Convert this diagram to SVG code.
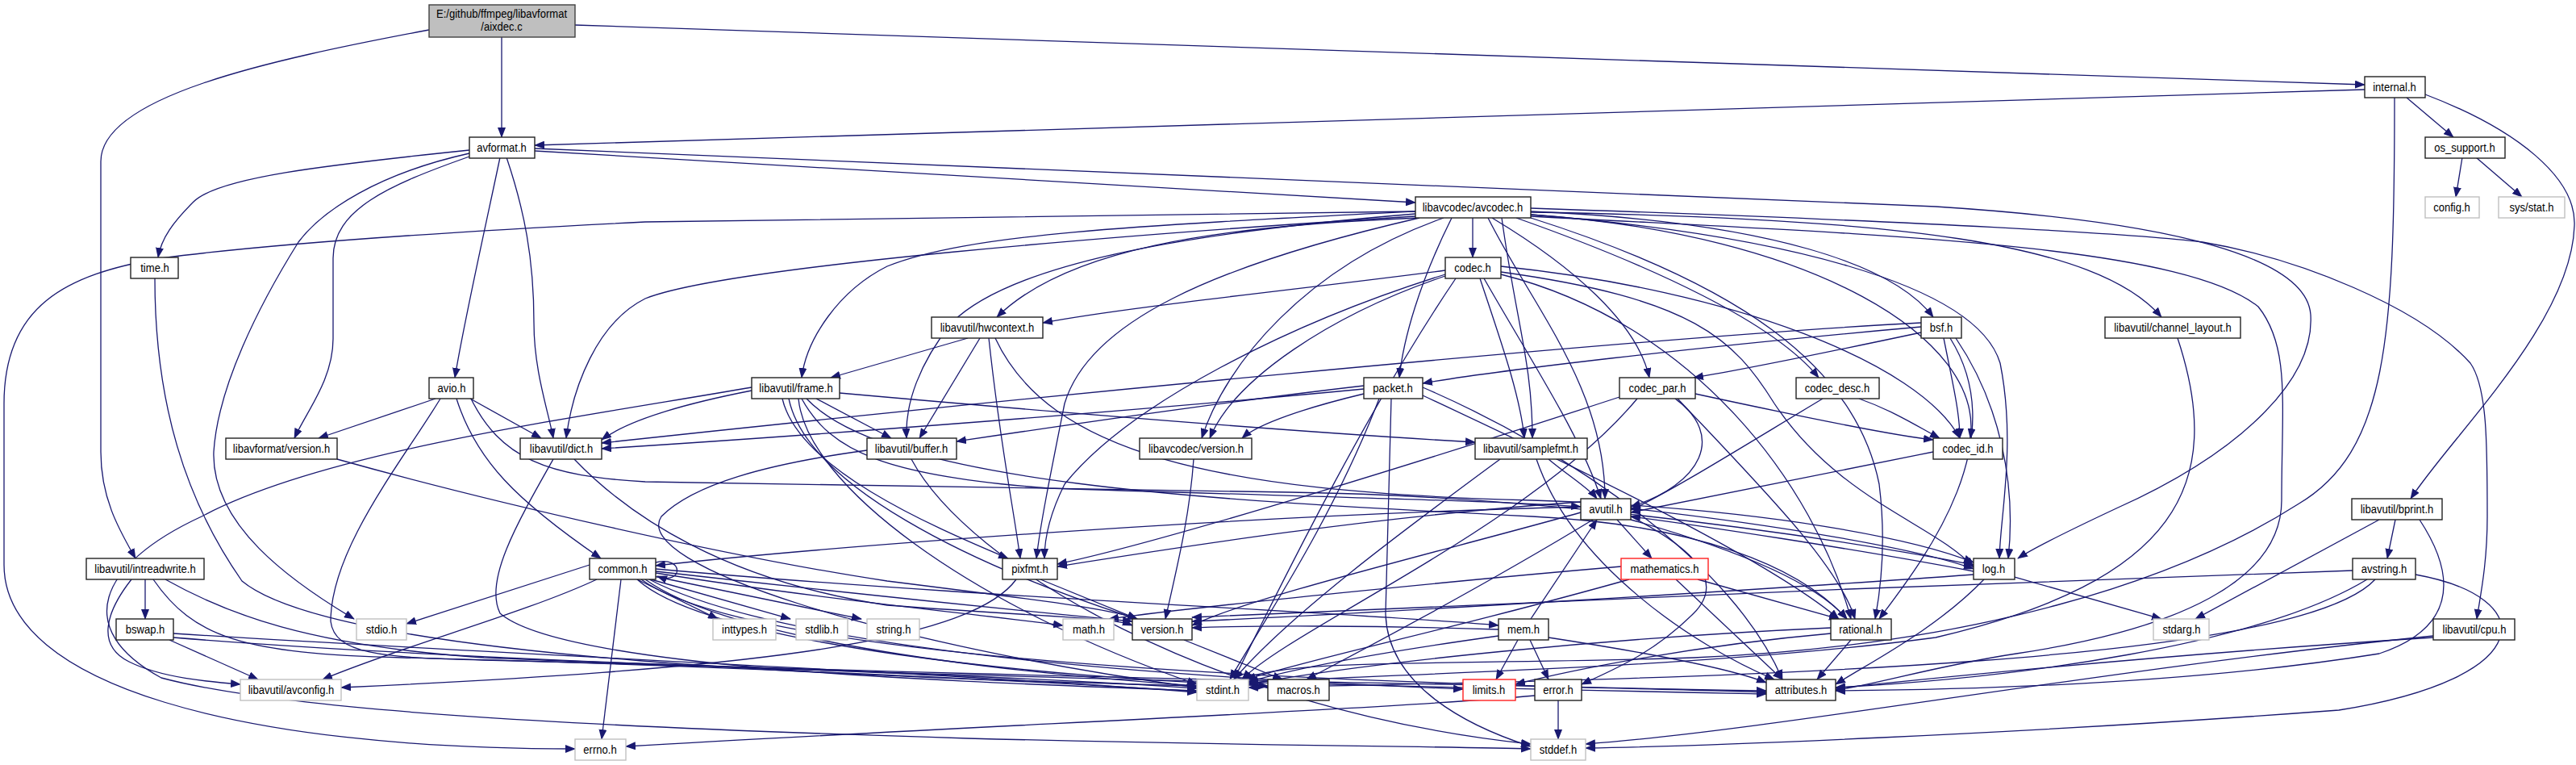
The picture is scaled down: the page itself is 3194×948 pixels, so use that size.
<svg xmlns="http://www.w3.org/2000/svg" width="3194" height="948" viewBox="0 0 3194 948">
<style>
.n rect{fill:#fff;stroke:#222;stroke-width:1.4}
.n.g rect{stroke:#c0c0c0}
.n.r rect{stroke:#ff2020}
.n.root rect{fill:#bfbfbf;stroke:#404040}
.n text{font-family:"Liberation Sans",Arial,sans-serif;font-size:15px;fill:#000;text-anchor:middle}
#edges path{fill:none;stroke:#191970;stroke-width:1.3;marker-end:url(#ah)}
</style>
<defs>
<marker id="ah" viewBox="0 0 13 10" refX="12" refY="5" markerWidth="13" markerHeight="10" markerUnits="userSpaceOnUse" orient="auto"><path d="M0,0 L13,5 L0,10 z" fill="#191970"/></marker>
</defs>
<rect width="3194" height="948" fill="#fff"/>
<g id="edges">
<path d="M622,46 L622,170"/>
<path d="M713,31 L2932,105"/>
<path d="M532,37 C330,75 125,120 125,200 L125,560 C125,620 150,660 168,692"/>
<path d="M2932,111 L663,180"/>
<path d="M2984,121 L3042,170"/>
<path d="M3007,117 C3120,160 3195,220 3192,280 C3188,400 3040,540 2989,618"/>
<path d="M2969,121 C2969,420 2960,560 2849,625 C2700,720 2450,800 2100,815 C1800,825 1600,815 1540,842"/>
<path d="M3053,195 L3045,244"/>
<path d="M3070,195 L3127,244"/>
<path d="M582,186 C400,205 270,220 240,250 C215,275 200,295 196,319"/>
<path d="M582,190 C470,215 400,260 370,300 C320,380 270,480 265,560 C262,650 360,720 439,767"/>
<path d="M582,194 C480,230 413,260 413,320 L413,420 C413,470 380,510 365,543"/>
<path d="M620,195 C600,290 575,400 564,468"/>
<path d="M628,195 C650,260 662,320 662,400 C662,460 680,510 686,543"/>
<path d="M663,187 L1755,251"/>
<path d="M663,184 L2400,256 C2700,275 2860,320 2865,390 C2870,470 2780,560 2624,630 C2560,660 2520,680 2502,692"/>
<path d="M540,494 L395,543"/>
<path d="M583,494 L671,543"/>
<path d="M566,494 C590,570 640,620 745,692"/>
<path d="M546,494 C500,570 410,680 410,770 C415,810 470,815 600,818 C900,825 1300,840 1484,853"/>
<path d="M582,490 C620,570 680,590 800,597 L1600,610 C2000,616 2400,690 2447,700"/>
<path d="M418,569 C600,620 900,690 1100,720 C1300,745 1380,755 1410,767"/>
<path d="M686,569 C640,650 600,720 620,760 C700,830 1200,845 1484,856"/>
<path d="M712,569 C780,640 900,720 1100,750 C1300,765 1380,765 1404,775"/>
<path d="M192,345 C192,500 230,620 300,720 C420,820 1100,840 1484,850"/>
<path d="M180,718 L180,767"/>
<path d="M163,718 C130,760 120,800 160,820 C200,840 260,845 298,848"/>
<path d="M190,718 C240,790 300,810 500,815 C900,825 1300,845 1484,857"/>
<path d="M205,718 C280,760 380,800 600,815 C1200,840 2000,850 2190,858"/>
<path d="M210,793 L320,842"/>
<path d="M215,785 C600,810 1200,835 1484,858"/>
<path d="M215,790 C700,830 1700,850 2190,860"/>
<path d="M813,697 C848,688 848,726 815,714"/>
<path d="M731,700 L504,773"/>
<path d="M740,718 C650,760 500,800 400,842"/>
<path d="M770,718 L746,916"/>
<path d="M790,718 L890,767"/>
<path d="M800,716 L980,767"/>
<path d="M810,714 L1068,767"/>
<path d="M813,710 C1000,740 1200,760 1318,775"/>
<path d="M813,708 C1050,735 1300,760 1404,770"/>
<path d="M800,718 C900,790 1200,830 1484,850"/>
<path d="M790,718 C880,800 1300,840 1572,850"/>
<path d="M813,705 C1200,740 1700,760 1858,775"/>
<path d="M805,718 C1000,820 1600,845 1814,854"/>
<path d="M795,718 C950,830 1800,850 2190,856"/>
<path d="M1755,262 L800,275 C600,285 350,300 200,320 C80,340 5,380 5,500 L5,700 C5,850 300,928 713,928"/>
<path d="M1862,270 C1880,400 1900,450 1900,543"/>
<path d="M1898,268 C2300,290 2700,300 2800,380 C2840,430 2829,500 2829,620 C2829,720 2700,780 2500,810 C2400,825 2320,850 2276,855"/>
<path d="M1845,270 C1900,380 1990,480 1990,618"/>
<path d="M1755,265 C1450,290 1250,330 1180,400 C1140,450 1122,500 1124,543"/>
<path d="M1898,258 C2400,275 2650,290 2731,300 C2850,320 3000,380 3063,450 C3084,480 3084,550 3084,640 C3084,700 3075,740 3071,767"/>
<path d="M1898,263 C2350,270 2600,300 2680,393"/>
<path d="M1755,268 C1400,290 900,330 800,370 C740,400 710,480 702,543"/>
<path d="M1755,262 C1400,280 1200,290 1100,330 C1040,360 1000,420 994,468"/>
<path d="M1760,270 C1500,280 1320,310 1236,393"/>
<path d="M1898,266 C2200,290 2450,350 2480,450 C2500,550 2480,640 2479,692"/>
<path d="M1760,270 C1500,330 1350,400 1320,500 C1300,600 1290,650 1285,692"/>
<path d="M1898,270 C2150,350 2300,450 2330,600 C2340,680 2330,740 2325,767"/>
<path d="M1898,262 C2200,275 2350,330 2397,393"/>
<path d="M1826,270 L1826,319"/>
<path d="M1880,270 C2050,330 2200,400 2255,468"/>
<path d="M1850,270 C1950,330 2030,400 2045,468"/>
<path d="M1898,266 C2250,290 2460,420 2443,543"/>
<path d="M1800,270 C1760,350 1740,420 1735,468"/>
<path d="M1790,270 C1620,330 1520,450 1490,543"/>
<path d="M1805,345 C1700,500 1600,700 1530,842"/>
<path d="M1840,345 C1900,450 1960,540 1985,618"/>
<path d="M1792,335 C1600,360 1400,380 1293,400"/>
<path d="M1861,337 C2100,370 2150,420 2200,500 C2280,620 2400,650 2447,703"/>
<path d="M1792,340 C1600,400 1400,500 1320,600 C1300,640 1295,670 1295,692"/>
<path d="M1861,340 C2100,400 2250,600 2295,767"/>
<path d="M1835,345 C1860,420 1885,490 1890,543"/>
<path d="M1861,330 C2150,360 2380,450 2430,543"/>
<path d="M1792,342 C1650,390 1530,470 1500,543"/>
<path d="M2030,494 C1900,650 1600,780 1540,842"/>
<path d="M2077,494 C2140,540 2110,600 2022,628"/>
<path d="M2080,494 C2180,600 2280,700 2300,767"/>
<path d="M2008,492 C1800,560 1450,670 1311,699"/>
<path d="M2102,488 C2250,520 2350,540 2397,545"/>
<path d="M2260,494 C2150,560 2070,610 2022,632"/>
<path d="M2305,494 C2350,510 2380,530 2405,543"/>
<path d="M2397,560 C2250,590 2100,620 2022,635"/>
<path d="M2382,405 C2100,430 1850,460 1764,475"/>
<path d="M2382,412 C2250,440 2150,460 2100,468"/>
<path d="M2382,400 C2000,420 1200,500 746,549"/>
<path d="M2410,419 C2420,470 2430,510 2430,543"/>
<path d="M2418,419 C2500,550 2380,700 2330,767"/>
<path d="M2425,419 C2480,500 2500,600 2490,692"/>
<path d="M1725,494 L1718,760 C1720,850 1820,900 1898,925"/>
<path d="M1710,494 C1650,650 1560,780 1525,842"/>
<path d="M1764,480 C1950,560 2150,700 2210,842"/>
<path d="M1691,478 C1500,500 1300,530 1186,547"/>
<path d="M1691,482 C1400,510 1000,540 746,556"/>
<path d="M1764,490 C2000,600 2200,700 2280,767"/>
<path d="M1691,488 C1620,505 1560,525 1540,543"/>
<path d="M1480,569 C1475,640 1460,700 1445,767"/>
<path d="M1860,569 C1750,650 1600,760 1530,842"/>
<path d="M1905,569 C1950,700 2100,800 2200,842"/>
<path d="M1920,569 C1945,590 1970,605 1980,618"/>
<path d="M1200,419 L1030,468"/>
<path d="M1215,419 L1140,543"/>
<path d="M1226,419 C1240,550 1255,620 1265,692"/>
<path d="M1234,419 C1300,560 1500,610 1900,620 C2200,630 2380,670 2447,697"/>
<path d="M932,480 C700,520 400,560 250,640 C120,700 90,780 200,840 C350,880 700,900 1200,915 C1600,925 1800,925 1898,928"/>
<path d="M990,494 C1000,600 1200,750 1484,848"/>
<path d="M1041,487 C1300,510 1600,535 1829,548"/>
<path d="M994,494 C1030,560 1100,590 1300,605 C1600,615 1850,620 1960,628"/>
<path d="M1012,494 L1105,543"/>
<path d="M932,484 C850,500 780,520 746,545"/>
<path d="M1000,494 C1100,600 1500,620 1900,640 C2100,650 2230,700 2290,767"/>
<path d="M970,494 C990,580 1150,650 1250,692"/>
<path d="M978,494 C1000,600 1200,700 1410,767"/>
<path d="M1075,558 C950,575 860,600 820,640 C780,700 1100,800 1484,852"/>
<path d="M1130,569 C1200,700 1500,880 1898,922"/>
<path d="M1260,718 C1200,800 900,830 423,852"/>
<path d="M1290,718 L1410,767"/>
<path d="M1960,628 C1500,640 1000,680 813,701"/>
<path d="M2022,640 C2100,680 2140,720 2100,760 C2050,810 2000,830 1961,848"/>
<path d="M2022,644 C2150,680 2250,720 2290,767"/>
<path d="M1960,635 C1800,680 1550,740 1478,775"/>
<path d="M1975,644 C1850,720 1700,800 1620,842"/>
<path d="M2005,644 L2048,692"/>
<path d="M2022,630 C2200,650 2380,680 2447,705"/>
<path d="M1960,622 C1700,640 1450,680 1311,702"/>
<path d="M1932,868 L1932,916"/>
<path d="M1903,862 C1700,880 1200,900 776,925"/>
<path d="M2010,702 C1800,720 1500,750 1375,767"/>
<path d="M2020,718 C1800,780 1650,810 1545,842"/>
<path d="M2078,718 L2210,842"/>
<path d="M2105,718 L2280,767"/>
<path d="M2270,778 C2000,790 1700,820 1548,848"/>
<path d="M2270,785 C2100,800 1950,830 1879,848"/>
<path d="M2295,793 L2253,842"/>
<path d="M1882,793 L1855,842"/>
<path d="M1897,793 L1920,842"/>
<path d="M1920,790 C2050,810 2150,830 2190,846"/>
<path d="M1898,767 L1980,644"/>
<path d="M1858,788 C1700,810 1600,830 1548,845"/>
<path d="M1858,780 C1700,775 1550,775 1478,778"/>
<path d="M2498,715 L2680,767"/>
<path d="M2447,708 C2300,680 2100,650 2022,640"/>
<path d="M2460,718 C2400,780 2320,820 2276,848"/>
<path d="M2447,712 C2200,730 1700,760 1478,770"/>
<path d="M1468,793 L1590,842"/>
<path d="M2917,707 C2500,720 1800,750 1478,765"/>
<path d="M2935,718 C2800,800 2500,840 2276,852"/>
<path d="M2945,718 C2850,820 2200,840 1548,852"/>
<path d="M2995,712 C3150,740 3150,840 2900,880 C2500,910 2100,925 1966,927"/>
<path d="M2970,644 L2960,692"/>
<path d="M2950,644 L2722,767"/>
<path d="M3000,644 C3050,720 3040,780 2950,810 C2700,850 2400,855 2276,856"/>
<path d="M3017,790 C2700,810 2400,840 2276,853"/>
<path d="M3017,788 C2600,830 2200,905 1966,922"/>
<path d="M2700,419 C2760,600 2700,720 2400,790 C2100,830 1700,835 1548,846"/>
</g>
<g id="n_root" class="n root"><rect x="532" y="6" width="181" height="40"/><text transform="translate(622,22) scale(0.87,1)">E:/github/ffmpeg/libavformat</text><text transform="translate(622,38) scale(0.87,1)">/aixdec.c</text></g>
<g id="n_internal" class="n"><rect x="2932" y="95" width="75" height="26"/><text transform="translate(2969,113) scale(0.87,1)">internal.h</text></g>
<g id="n_avformat" class="n"><rect x="582" y="170" width="81" height="26"/><text transform="translate(622,188) scale(0.87,1)">avformat.h</text></g>
<g id="n_os_support" class="n"><rect x="3007" y="170" width="99" height="26"/><text transform="translate(3056,188) scale(0.87,1)">os_support.h</text></g>
<g id="n_avcodec" class="n"><rect x="1755" y="244" width="143" height="26"/><text transform="translate(1826,262) scale(0.87,1)">libavcodec/avcodec.h</text></g>
<g id="n_config" class="n g"><rect x="3007" y="244" width="67" height="26"/><text transform="translate(3040,262) scale(0.87,1)">config.h</text></g>
<g id="n_sysstat" class="n g"><rect x="3098" y="244" width="82" height="26"/><text transform="translate(3139,262) scale(0.87,1)">sys/stat.h</text></g>
<g id="n_time" class="n"><rect x="162" y="319" width="59" height="26"/><text transform="translate(192,337) scale(0.87,1)">time.h</text></g>
<g id="n_codec" class="n"><rect x="1792" y="319" width="69" height="26"/><text transform="translate(1826,337) scale(0.87,1)">codec.h</text></g>
<g id="n_hwcontext" class="n"><rect x="1155" y="393" width="138" height="26"/><text transform="translate(1224,411) scale(0.87,1)">libavutil/hwcontext.h</text></g>
<g id="n_bsf" class="n"><rect x="2382" y="393" width="50" height="26"/><text transform="translate(2407,411) scale(0.87,1)">bsf.h</text></g>
<g id="n_chlayout" class="n"><rect x="2610" y="393" width="168" height="26"/><text transform="translate(2694,411) scale(0.87,1)">libavutil/channel_layout.h</text></g>
<g id="n_avio" class="n"><rect x="532" y="468" width="55" height="26"/><text transform="translate(560,486) scale(0.87,1)">avio.h</text></g>
<g id="n_frame" class="n"><rect x="932" y="468" width="109" height="26"/><text transform="translate(987,486) scale(0.87,1)">libavutil/frame.h</text></g>
<g id="n_packet" class="n"><rect x="1691" y="468" width="73" height="26"/><text transform="translate(1727,486) scale(0.87,1)">packet.h</text></g>
<g id="n_codec_par" class="n"><rect x="2008" y="468" width="94" height="26"/><text transform="translate(2055,486) scale(0.87,1)">codec_par.h</text></g>
<g id="n_codec_desc" class="n"><rect x="2227" y="468" width="103" height="26"/><text transform="translate(2278,486) scale(0.87,1)">codec_desc.h</text></g>
<g id="n_lavfver" class="n"><rect x="280" y="543" width="138" height="26"/><text transform="translate(349,561) scale(0.87,1)">libavformat/version.h</text></g>
<g id="n_dict" class="n"><rect x="645" y="543" width="101" height="26"/><text transform="translate(696,561) scale(0.87,1)">libavutil/dict.h</text></g>
<g id="n_buffer" class="n"><rect x="1075" y="543" width="111" height="26"/><text transform="translate(1130,561) scale(0.87,1)">libavutil/buffer.h</text></g>
<g id="n_lavcver" class="n"><rect x="1413" y="543" width="139" height="26"/><text transform="translate(1483,561) scale(0.87,1)">libavcodec/version.h</text></g>
<g id="n_samplefmt" class="n"><rect x="1829" y="543" width="139" height="26"/><text transform="translate(1898,561) scale(0.87,1)">libavutil/samplefmt.h</text></g>
<g id="n_codec_id" class="n"><rect x="2397" y="543" width="86" height="26"/><text transform="translate(2440,561) scale(0.87,1)">codec_id.h</text></g>
<g id="n_avutil" class="n"><rect x="1960" y="618" width="62" height="26"/><text transform="translate(1991,636) scale(0.87,1)">avutil.h</text></g>
<g id="n_bprint" class="n"><rect x="2916" y="618" width="112" height="26"/><text transform="translate(2972,636) scale(0.87,1)">libavutil/bprint.h</text></g>
<g id="n_intreadwrite" class="n"><rect x="107" y="692" width="146" height="26"/><text transform="translate(180,710) scale(0.87,1)">libavutil/intreadwrite.h</text></g>
<g id="n_common" class="n"><rect x="731" y="692" width="82" height="26"/><text transform="translate(772,710) scale(0.87,1)">common.h</text></g>
<g id="n_pixfmt" class="n"><rect x="1243" y="692" width="68" height="26"/><text transform="translate(1277,710) scale(0.87,1)">pixfmt.h</text></g>
<g id="n_mathematics" class="n r"><rect x="2010" y="692" width="108" height="26"/><text transform="translate(2064,710) scale(0.87,1)">mathematics.h</text></g>
<g id="n_log" class="n"><rect x="2447" y="692" width="51" height="26"/><text transform="translate(2472,710) scale(0.87,1)">log.h</text></g>
<g id="n_avstring" class="n"><rect x="2917" y="692" width="78" height="26"/><text transform="translate(2956,710) scale(0.87,1)">avstring.h</text></g>
<g id="n_bswap" class="n"><rect x="144" y="767" width="71" height="26"/><text transform="translate(180,785) scale(0.87,1)">bswap.h</text></g>
<g id="n_stdio" class="n g"><rect x="442" y="767" width="62" height="26"/><text transform="translate(473,785) scale(0.87,1)">stdio.h</text></g>
<g id="n_inttypes" class="n g"><rect x="884" y="767" width="78" height="26"/><text transform="translate(923,785) scale(0.87,1)">inttypes.h</text></g>
<g id="n_stdlib" class="n g"><rect x="987" y="767" width="64" height="26"/><text transform="translate(1019,785) scale(0.87,1)">stdlib.h</text></g>
<g id="n_string" class="n g"><rect x="1075" y="767" width="65" height="26"/><text transform="translate(1108,785) scale(0.87,1)">string.h</text></g>
<g id="n_math" class="n g"><rect x="1318" y="767" width="63" height="26"/><text transform="translate(1350,785) scale(0.87,1)">math.h</text></g>
<g id="n_version" class="n"><rect x="1404" y="767" width="74" height="26"/><text transform="translate(1441,785) scale(0.87,1)">version.h</text></g>
<g id="n_mem" class="n"><rect x="1858" y="767" width="62" height="26"/><text transform="translate(1889,785) scale(0.87,1)">mem.h</text></g>
<g id="n_rational" class="n"><rect x="2270" y="767" width="75" height="26"/><text transform="translate(2307,785) scale(0.87,1)">rational.h</text></g>
<g id="n_stdarg" class="n g"><rect x="2670" y="767" width="69" height="26"/><text transform="translate(2705,785) scale(0.87,1)">stdarg.h</text></g>
<g id="n_cpu" class="n"><rect x="3017" y="767" width="101" height="26"/><text transform="translate(3068,785) scale(0.87,1)">libavutil/cpu.h</text></g>
<g id="n_avconfig" class="n g"><rect x="298" y="842" width="125" height="26"/><text transform="translate(361,860) scale(0.87,1)">libavutil/avconfig.h</text></g>
<g id="n_stdint" class="n g"><rect x="1484" y="842" width="64" height="26"/><text transform="translate(1516,860) scale(0.87,1)">stdint.h</text></g>
<g id="n_macros" class="n"><rect x="1572" y="842" width="76" height="26"/><text transform="translate(1610,860) scale(0.87,1)">macros.h</text></g>
<g id="n_limits" class="n r"><rect x="1814" y="842" width="65" height="26"/><text transform="translate(1846,860) scale(0.87,1)">limits.h</text></g>
<g id="n_error" class="n"><rect x="1903" y="842" width="58" height="26"/><text transform="translate(1932,860) scale(0.87,1)">error.h</text></g>
<g id="n_attributes" class="n"><rect x="2190" y="842" width="86" height="26"/><text transform="translate(2233,860) scale(0.87,1)">attributes.h</text></g>
<g id="n_errno" class="n g"><rect x="713" y="916" width="63" height="26"/><text transform="translate(744,934) scale(0.87,1)">errno.h</text></g>
<g id="n_stddef" class="n g"><rect x="1898" y="916" width="68" height="26"/><text transform="translate(1932,934) scale(0.87,1)">stddef.h</text></g>
</svg>
